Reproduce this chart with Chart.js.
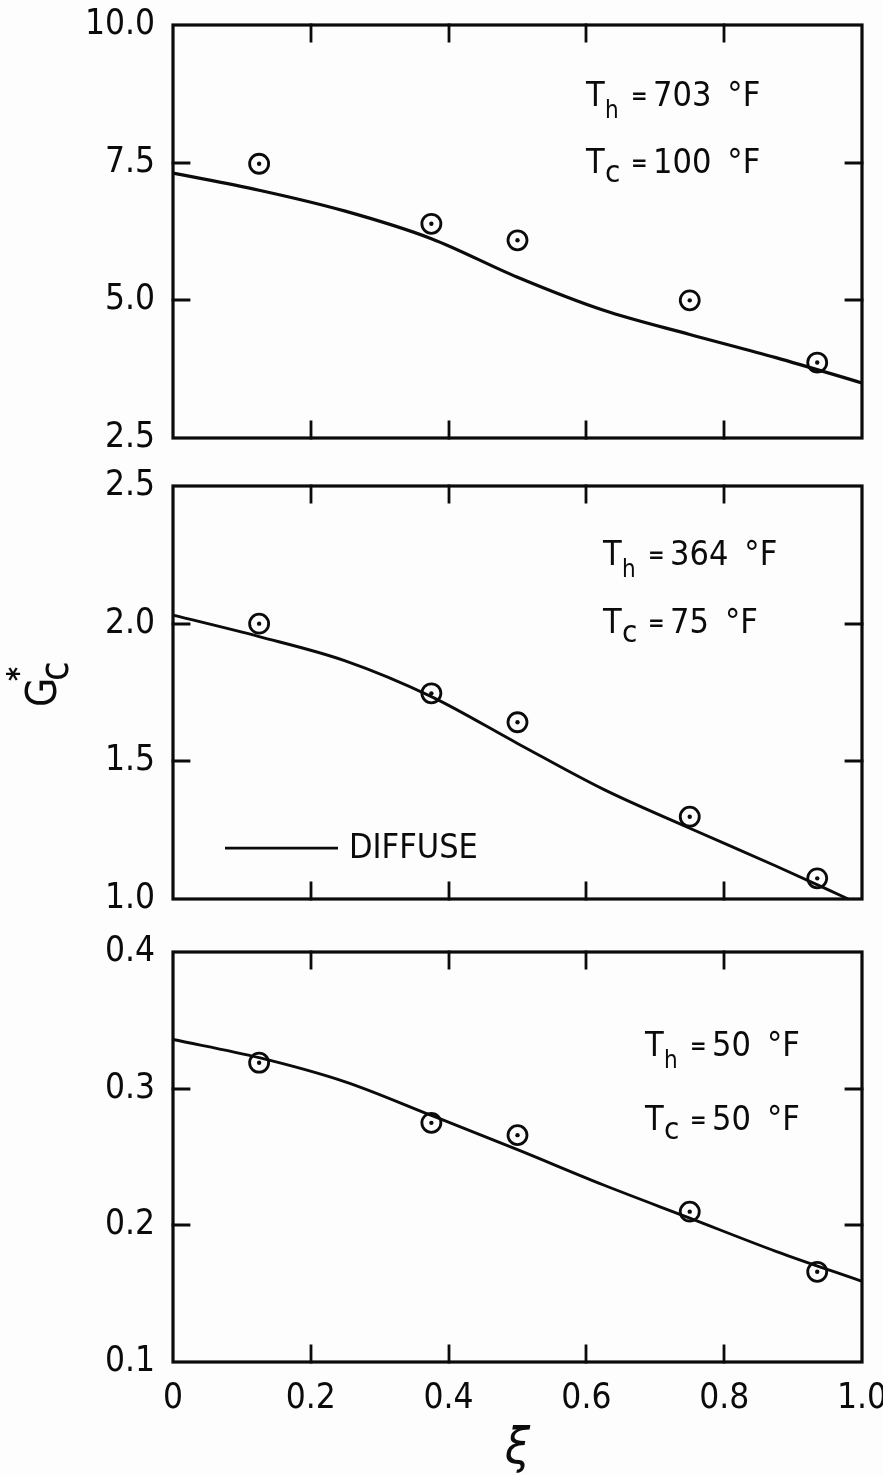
<!DOCTYPE html>
<html>
<head>
<meta charset="utf-8">
<title>G*c vs ξ</title>
<script src="https://cdn.jsdelivr.net/npm/chart.js@4.4.1/dist/chart.umd.min.js"></script>
<style>
  html, body { margin: 0; padding: 0; background: #fdfdfd; overflow: hidden; }
  #page { position: relative; width: 883px; height: 1475px; }
  #page canvas { position: absolute; left: 0; }
</style>
</head>
<body>
<div id="page">
  <canvas id="chartHot" width="883" height="462" style="top:0"></canvas>
  <canvas id="chartMid" width="883" height="463" style="top:462px"></canvas>
  <canvas id="chartCold" width="883" height="550" style="top:925px"></canvas>
</div>
<script>
// ── Measured points (same ξ stations in every panel) ─────────
const xiMeasured = [0.125, 0.375, 0.5, 0.75, 0.935];
const gHot  = [7.48, 6.39, 6.09, 5.0, 3.87];
const gMid  = [2.0, 1.747, 1.642, 1.299, 1.075];
const gCold = [0.319, 0.275, 0.266, 0.210, 0.166];

// ── Diffuse-model curves ─────────────────────────────────────
const xiCurve     = [0, 0.125, 0.25, 0.375, 0.5, 0.625, 0.75, 0.875, 1.0];
const diffuseHot  = [7.31, 7.0, 6.62, 6.12, 5.42, 4.82, 4.38, 3.96, 3.5];
const xiCurveMid  = [0, 0.125, 0.25, 0.375, 0.5, 0.625, 0.75, 0.875, 0.98];
const diffuseMid  = [2.031, 1.953, 1.865, 1.735, 1.565, 1.398, 1.257, 1.12, 1.0];
const diffuseCold = [0.336, 0.3227, 0.305, 0.2804, 0.2554, 0.2295, 0.2053, 0.181, 0.159];

// ── Axis ranges / ticks ──────────────────────────────────────
const xiTicks   = [0, 0.2, 0.4, 0.6, 0.8, 1.0];
const hotRange  = [2.5, 10, 2.5];
const midRange  = [1.0, 2.5, 0.5];
const coldRange = [0.1, 0.4, 0.1];

// ── Wall temperatures [T_h, T_c] in °F ───────────────────────
const tempHot  = [703, 100];
const tempMid  = [364, 75];
const tempCold = [50, 50];

const FONT = '"DejaVu Sans Condensed", "DejaVu Sans", "Liberation Sans", sans-serif';
const INK = '#0b0b0b';
const PLOT_LEFT = 173;

const pts = (xs, ys) => xs.map((x, i) => ({ x, y: ys[i] }));

// Box frame plus inward tick marks on all four sides
const frameTicks = {
  id: 'frameTicks',
  afterDraw(chart) {
    const { ctx, chartArea: a, scales: { x, y } } = chart;
    const len = 16;
    ctx.save();
    ctx.strokeStyle = INK;
    ctx.lineWidth = 3.2;
    ctx.lineCap = 'square';
    ctx.strokeRect(a.left, a.top, a.right - a.left, a.bottom - a.top);
    ctx.lineWidth = 2.8;
    ctx.beginPath();
    x.ticks.forEach(t => {
      if (t.value <= x.min + 1e-9 || t.value >= x.max - 1e-9) return;
      const px = Math.round(x.getPixelForValue(t.value));
      ctx.moveTo(px, a.bottom); ctx.lineTo(px, a.bottom - len);
      ctx.moveTo(px, a.top);    ctx.lineTo(px, a.top + len);
    });
    y.ticks.forEach(t => {
      if (t.value <= y.min + 1e-9 || t.value >= y.max - 1e-9) return;
      const py = Math.round(y.getPixelForValue(t.value));
      ctx.moveTo(a.left, py);  ctx.lineTo(a.left + len, py);
      ctx.moveTo(a.right, py); ctx.lineTo(a.right - len, py);
    });
    ctx.stroke();
    ctx.restore();
  }
};

// "T_h = 703 °F" style label, baseline at y
function drawTemp(ctx, x, y, sub, value) {
  ctx.fillStyle = INK;
  ctx.textAlign = 'left';
  ctx.textBaseline = 'alphabetic';
  ctx.font = `34px ${FONT}`;
  ctx.fillText('T', x, y);
  ctx.font = sub === 'h' ? `24px ${FONT}` : `31px ${FONT}`;
  ctx.fillText(sub, x + 19, y + (sub === 'h' ? 12 : 9));
  ctx.font = `bold 22px ${FONT}`;
  ctx.fillText('=', x + 45, y - 3);
  ctx.font = `34px ${FONT}`;
  const num = String(value);
  ctx.fillText(num, x + 67, y);
  const w = ctx.measureText(num).width;
  ctx.fillText('°F', x + 67 + w + 16, y);
}

const tempLabels = {
  id: 'tempLabels',
  afterDraw(chart, args, opts) {
    const { ctx, chartArea: a } = chart;
    ctx.save();
    drawTemp(ctx, opts.x, a.top + opts.dy[0], 'h', opts.temps[0]);
    drawTemp(ctx, opts.x, a.top + opts.dy[1], 'c', opts.temps[1]);
    ctx.restore();
  }
};

// Legend sample and the G*c axis title (middle panel only)
const midExtras = {
  id: 'midExtras',
  afterDraw(chart) {
    const { ctx } = chart;
    const y = chart.scales.y.getPixelForValue(1.185);
    ctx.save();
    ctx.strokeStyle = INK;
    ctx.lineWidth = 2.8;
    ctx.beginPath();
    ctx.moveTo(225, y); ctx.lineTo(338, y);
    ctx.stroke();
    ctx.fillStyle = INK;
    ctx.font = `34px ${FONT}`;
    ctx.textBaseline = 'middle';
    ctx.fillText('DIFFUSE', 349, y + 1);

    // rotated G*c
    const cy = chart.scales.y.getPixelForValue(1.77);
    ctx.translate(56, cy + 20);
    ctx.rotate(-Math.PI / 2);
    ctx.textBaseline = 'alphabetic';
    ctx.font = `42px ${FONT}`;
    ctx.fillText('G', 0, 0);
    ctx.font = `40px ${FONT}`;
    ctx.fillText('c', 26, 12);
    ctx.font = `bold 30px ${FONT}`;
    ctx.fillText('*', 26, -28);
    ctx.restore();
  }
};

function makePanel(id, cfg) {
  const [ymin, ymax, ystep] = cfg.range;
  return new Chart(document.getElementById(id), {
    type: 'scatter',
    data: {
      datasets: [
        {
          label: 'measured',
          data: pts(xiMeasured, cfg.measured),
          pointStyle: 'circle',
          pointRadius: 9.5,
          borderWidth: 2.8,
          borderColor: INK,
          backgroundColor: 'rgba(0,0,0,0)',
        },
        {
          label: 'measured-centre',
          data: pts(xiMeasured, cfg.measured),
          pointRadius: 2.2,
          borderWidth: 0,
          backgroundColor: INK,
        },
        {
          label: 'DIFFUSE',
          data: pts(cfg.curveX, cfg.curve),
          showLine: true,
          pointRadius: 0,
          borderColor: INK,
          borderWidth: cfg.lineWidth,
          cubicInterpolationMode: 'monotone',
          clip: 4,
        },
      ],
    },
    options: {
      responsive: false,
      animation: false,
      events: [],
      layout: { padding: { top: cfg.padTop, bottom: cfg.padBottom, left: 0, right: 21 } },
      plugins: {
        legend: { display: false },
        tooltip: { enabled: false },
        tempLabels: { x: cfg.labelX, dy: cfg.labelDy, temps: cfg.temps },
      },
      scales: {
        x: {
          type: 'linear',
          min: 0,
          max: 1,
          afterBuildTicks: s => { s.ticks = xiTicks.map(v => ({ value: v })); },
          grid: { display: false, drawTicks: false },
          border: { display: false },
          ticks: {
            display: cfg.showX,
            color: INK,
            padding: 16,
            maxRotation: 0,
            font: { family: FONT, size: 35 },
            callback: v => (v === 0 ? '0' : v.toFixed(1)),
          },
          title: {
            display: cfg.showX,
            text: 'ξ',
            color: INK,
            padding: { top: 0, bottom: 0 },
            font: { family: FONT, size: 50, style: 'italic', lineHeight: 1 },
          },
          afterFit: s => {
            s.height = cfg.showX ? 113 : 0;
            s.paddingLeft = 0;
            s.paddingRight = 0;
          },
        },
        y: {
          min: ymin,
          max: ymax,
          ticks: {
            stepSize: ystep,
            color: INK,
            padding: 18,
            font: { family: FONT, size: 35 },
            callback: v => v.toFixed(1),
          },
          grid: { display: false, drawTicks: false },
          border: { display: false },
          afterFit: s => {
            s.width = PLOT_LEFT;
            s.paddingTop = 0;
            s.paddingBottom = 0;
          },
        },
      },
    },
    plugins: cfg.extra ? [frameTicks, tempLabels, cfg.extra] : [frameTicks, tempLabels],
  });
}

makePanel('chartHot', {
  range: hotRange, measured: gHot, curveX: xiCurve, curve: diffuseHot,
  lineWidth: 3.2, padTop: 25, padBottom: 24, showX: false,
  labelX: 586, labelDy: [81, 148], temps: tempHot,
});

makePanel('chartMid', {
  range: midRange, measured: gMid, curveX: xiCurveMid, curve: diffuseMid,
  lineWidth: 2.9, padTop: 24, padBottom: 26, showX: false,
  labelX: 603, labelDy: [79, 147], temps: tempMid, extra: midExtras,
});

makePanel('chartCold', {
  range: coldRange, measured: gCold, curveX: xiCurve, curve: diffuseCold,
  lineWidth: 2.9, padTop: 27, padBottom: 0, showX: true,
  labelX: 645, labelDy: [104, 178], temps: tempCold,
});
</script>
</body>
</html>
